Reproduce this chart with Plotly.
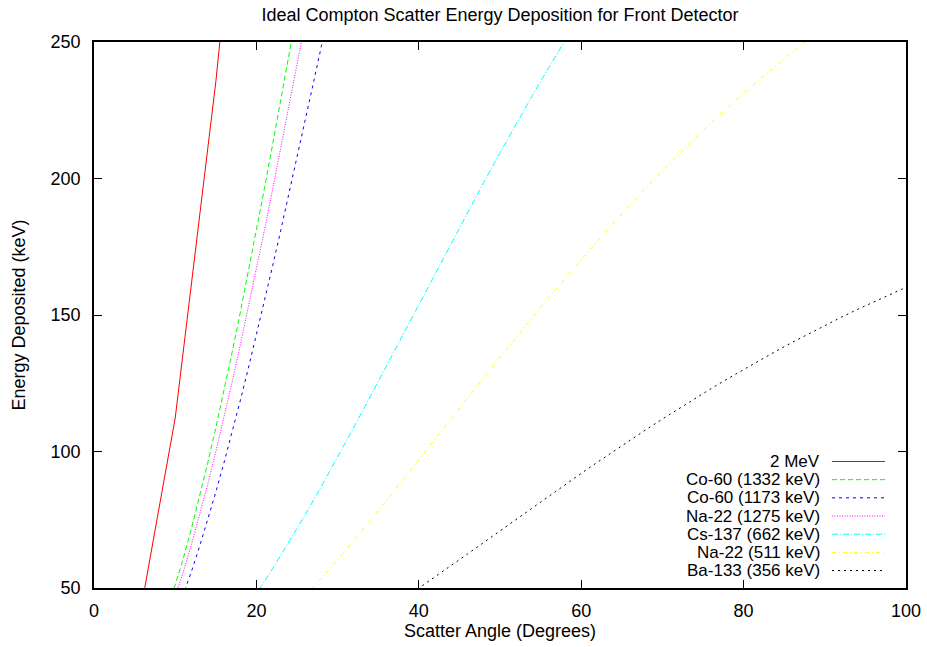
import plotly.graph_objects as go

# ---- data ----
angle_2mev = [0, 5, 10, 15, 20]
dep_2mev = [0.0, 29.35, 112.25, 235.34, 381.92]

angle_co1332 = [9, 10, 11, 12, 13, 14, 15, 16, 17, 18, 19, 20, 21, 22, 23, 24, 25]
dep_co1332 = [41.42, 50.74, 60.88, 71.78, 83.42, 95.72, 108.66, 122.17, 136.20, 150.71,
              165.64, 180.95, 196.58, 212.49, 228.64, 244.97, 261.45]

angle_co1173 = [10, 11, 12, 13, 14, 15, 16, 17, 18, 19, 20, 21, 22, 23, 24, 25, 26, 27, 28, 29]
dep_co1173 = [39.53, 47.47, 56.03, 65.18, 74.88, 85.09, 95.79, 106.93, 118.48, 130.39,
              142.64, 155.18, 167.99, 181.02, 194.24, 207.62, 221.13, 234.75, 248.43, 262.15]

angle_na1275 = [9, 10, 11, 12, 13, 14, 15, 16, 17, 18, 19, 20, 21, 22, 23, 24, 25, 26]
dep_na1275 = [38.00, 46.57, 55.89, 65.92, 76.63, 87.98, 99.90, 112.37, 125.34, 138.75,
              152.58, 166.76, 181.26, 196.03, 211.04, 226.23, 241.58, 257.05]

angle_cs662 = [18, 20, 22, 24, 26, 28, 30, 32, 34, 36, 38, 40, 42, 44, 46, 48, 50, 52, 54, 56, 58, 60]
dep_cs662 = [39.47, 47.97, 57.06, 66.68, 76.74, 87.17, 97.91, 108.88, 120.03, 131.30, 142.63,
             153.97, 165.28, 176.52, 187.64, 198.62, 209.43, 220.05, 230.45, 240.63, 250.56, 260.24]

angle_na511 = [24, 26, 28, 30, 32, 34, 36, 38, 40, 42, 44, 46, 48, 50, 52, 54, 56, 58, 60,
               62, 64, 66, 68, 70, 72, 74, 76, 78, 80, 82, 84, 86, 88, 90]
dep_na511 = [40.66, 46.96, 53.55, 60.37, 67.40, 74.61, 81.94, 89.38, 96.89, 104.43, 111.99,
             119.53, 127.04, 134.49, 141.87, 149.16, 156.34, 163.40, 170.33, 177.13, 183.78,
             190.27, 196.61, 202.79, 208.81, 214.66, 220.34, 225.86, 231.21, 236.39, 241.41,
             246.26, 250.96, 255.50]

angle_ba356 = [38, 40, 42, 44, 46, 48, 50, 52, 54, 56, 58, 60, 62, 64, 66, 68, 70, 72, 74,
               76, 78, 80, 82, 84, 86, 88, 90, 92, 94, 96, 98, 100]
dep_ba356 = [45.81, 49.89, 54.04, 58.22, 62.45, 66.69, 70.94, 75.19, 79.43, 83.64, 87.82,
             91.97, 96.07, 100.12, 104.11, 108.04, 111.90, 115.69, 119.40, 123.04, 126.59,
             130.07, 133.46, 136.77, 139.99, 143.13, 146.18, 149.14, 152.02, 154.81, 157.52,
             160.14]

labels = ["2 MeV", "Co-60 (1332 keV)", "Co-60 (1173 keV)", "Na-22 (1275 keV)",
          "Cs-137 (662 keV)", "Na-22 (511 keV)", "Ba-133 (356 keV)"]

x_ticks = [0, 20, 40, 60, 80, 100]
y_ticks = [50, 100, 150, 200, 250]

# ---- styles ----
colors = ["#ff0000", "#00ff00", "#0000ff", "#ff00ff", "#00ffff", "#ffff00", "#000000"]
dashes = ["solid", "5px,3px", "3px,4px", "1px,1.5px", "6px,2px,1px,2px", "4px,3px,1px,3px", "2px,4px"]

series = [
    (angle_2mev, dep_2mev), (angle_co1332, dep_co1332), (angle_co1173, dep_co1173),
    (angle_na1275, dep_na1275), (angle_cs662, dep_cs662), (angle_na511, dep_na511),
    (angle_ba356, dep_ba356),
]

FONT = "Liberation Sans, Arial, Helvetica, sans-serif"
fs = 18
legfs = 17

fig = go.Figure()
for (xs, ys), name, c, d in zip(series, labels, colors, dashes):
    fig.add_trace(go.Scatter(x=xs, y=ys, mode="lines", name=name,
                             line=dict(color=c, width=1, dash=d),
                             showlegend=False, hoverinfo="skip"))

# plot area in pixels
L, R, T, B = 94, 906, 42, 588
W, H = 927, 647
pw, ph = R - L, B - T

def px2x(px):
    return (px - L) / pw

def px2y(py):
    return (B - py) / ph

# custom gnuplot-style legend (text right aligned, sample on right)
row0, step = 461.5, 18.17
for i, (name, c, d) in enumerate(zip(labels, colors, dashes)):
    yy = px2y(row0 + i * step)
    fig.add_annotation(x=px2x(821), y=yy, xref="paper", yref="paper", text=name,
                       showarrow=False, xanchor="right", yanchor="middle",
                       height=17, valign="middle", borderpad=0,
                       font=dict(family=FONT, size=legfs, color="black"))
    fig.add_shape(type="line", xref="paper", yref="paper",
                  x0=px2x(832), x1=px2x(885), y0=yy, y1=yy,
                  line=dict(color=c, width=1, dash=d))

axis_common = dict(showline=True, linecolor="black", linewidth=1.5, mirror="ticks",
                   ticks="inside", ticklen=8, tickwidth=1, tickcolor="black",
                   showgrid=False, zeroline=False, automargin=False,
                   tickfont=dict(family=FONT, size=fs, color="black"))

fig.update_layout(
    width=W, height=H, autosize=False,
    margin=dict(l=L, r=W - R, t=T, b=H - B, pad=0, autoexpand=False),
    paper_bgcolor="white", plot_bgcolor="white",
    showlegend=False,
    title=dict(text="Ideal Compton Scatter Energy Deposition for Front Detector",
               x=(L + R) / 2 / W, xanchor="center", y=1 - 15 / H, yanchor="middle",
               yref="container",
               font=dict(family=FONT, size=fs, color="black")),
    xaxis=dict(range=[0, 100], tickvals=x_ticks, ticktext=[str(v) for v in x_ticks],
               title=dict(text="Scatter Angle (Degrees)", standoff=2,
                          font=dict(family=FONT, size=fs, color="black")),
               ticklabelstandoff=6, **axis_common),
    yaxis=dict(range=[50, 250], tickvals=y_ticks, ticktext=[str(v) for v in y_ticks],
               title=dict(text="Energy Deposited (keV)", standoff=20,
                          font=dict(family=FONT, size=fs, color="black")),
               ticklabelstandoff=8, **axis_common),
)

fig.write_html("out.html")
